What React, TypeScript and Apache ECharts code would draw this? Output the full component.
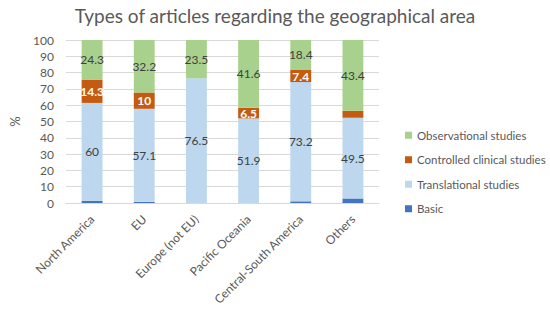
import React, { useEffect, useRef } from "react";
import * as echarts from "echarts";

const categories = ["North America", "EU", "Europe (not EU)", "Pacific Oceania", "Central-South America", "Others"];
const basic = [1.4, 0.7, 0, 0, 1.0, 2.8];
const translational = [60, 57.1, 76.5, 51.9, 73.2, 49.5];
const controlled = [14.3, 10, 0, 6.5, 7.4, 4.3];
const observational = [24.3, 32.2, 23.5, 41.6, 18.4, 43.4];
const yTicks = [0, 10, 20, 30, 40, 50, 60, 70, 80, 90, 100];

const FONT = "Lato";

export default function App() {
  const ref = useRef<HTMLDivElement>(null);
  useEffect(() => {
    if (!ref.current) return;
    const chart = echarts.init(ref.current, null, { renderer: "svg" });
    const fmt = (p: any) => (p.value >= 5 ? String(p.value) : "");
    chart.setOption({
      animation: false,
      textStyle: { fontFamily: FONT },
      title: {
        text: "Types of articles regarding the geographical area",
        left: "center",
        top: 1,
        textStyle: { fontFamily: FONT, fontSize: 19, fontWeight: "normal", color: "#595959" },
      },
      grid: { left: 52, right: 171, top: 40, bottom: 106 },
      legend: {
        orient: "vertical",
        left: 400,
        top: 123,
        itemWidth: 7,
        itemHeight: 7,
        itemGap: 10,
        icon: "rect",
        data: ["Observational studies", "Controlled clinical studies", "Translational studies", "Basic"],
        textStyle: { fontFamily: FONT, fontSize: 11.5, color: "#595959", lineHeight: 14.5 },
      },
      xAxis: {
        type: "category",
        data: categories,
        axisLine: { lineStyle: { color: "#d9d9d9" } },
        axisTick: { show: false },
        axisLabel: { interval: 0, rotate: 45, fontSize: 12, color: "#595959", margin: 14, fontFamily: FONT },
      },
      yAxis: {
        type: "value",
        min: yTicks[0],
        max: yTicks[yTicks.length - 1],
        interval: 10,
        name: "%",
        nameLocation: "middle",
        nameRotate: 90,
        nameGap: 45,
        nameTextStyle: { fontSize: 13, color: "#595959", fontFamily: FONT },
        axisLine: { show: false },
        axisTick: { show: false },
        axisLabel: { fontSize: 12, color: "#595959", margin: 12, fontFamily: FONT },
        splitLine: { lineStyle: { color: "#d9d9d9" } },
      },
      series: [
        {
          name: "Basic",
          type: "bar",
          stack: "s",
          barWidth: "40%",
          data: basic,
          itemStyle: { color: "#4472C4" },
        },
        {
          name: "Translational studies",
          type: "bar",
          stack: "s",
          data: translational,
          itemStyle: { color: "#BDD7EE" },
          label: { show: true, formatter: fmt, color: "#404040", fontSize: 12, fontFamily: FONT },
        },
        {
          name: "Controlled clinical studies",
          type: "bar",
          stack: "s",
          data: controlled,
          itemStyle: { color: "#C55A11" },
          label: { show: true, formatter: fmt, color: "#ffffff", fontSize: 12, fontWeight: "bold", fontFamily: FONT },
        },
        {
          name: "Observational studies",
          type: "bar",
          stack: "s",
          data: observational,
          itemStyle: { color: "#A9D18E" },
          label: { show: true, formatter: fmt, color: "#404040", fontSize: 12, fontFamily: FONT },
        },
      ],
    });
    return () => chart.dispose();
  }, []);
  return <div ref={ref} style={{ width: 550, height: 309, position: "absolute", left: 0, top: 0 }} />;
}
